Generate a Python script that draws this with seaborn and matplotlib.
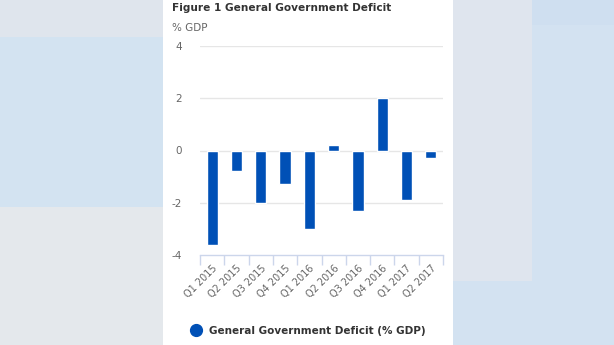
import matplotlib
matplotlib.use("Agg")
import matplotlib.pyplot as plt
import seaborn as sns
import pandas as pd
from matplotlib.patches import Rectangle
from matplotlib.lines import Line2D

quarters = ["Q1 2015", "Q2 2015", "Q3 2015", "Q4 2015", "Q1 2016",
            "Q2 2016", "Q3 2016", "Q4 2016", "Q1 2017", "Q2 2017"]
deficit = [-3.6, -0.8, -2.0, -1.3, -3.0, 0.2, -2.3, 2.0, -1.9, -0.3]
yticks = [-4, -2, 0, 2, 4]
series_name = "General Government Deficit (% GDP)"
title = "Figure 1 General Government Deficit"
unit = "% GDP"

sns.set_theme(style="white")
plt.rcParams["font.family"] = ["DejaVu Sans"]

W, H = 614, 345
fig = plt.figure(figsize=(W / 100, H / 100), dpi=100)
fig.patch.set_facecolor("white")

def px_rect(x0, y0, x1, y1, color):
    fig.patches.append(Rectangle((x0 / W, 1 - y1 / H), (x1 - x0) / W, (y1 - y0) / H,
                                 transform=fig.transFigure, facecolor=color,
                                 edgecolor="none", zorder=-10))

# background panels
px_rect(0, 0, 163, 37, "#dfe5ed")
px_rect(0, 37, 163, 207, "#d3e3f1")
px_rect(0, 207, 163, 345, "#e4e8ec")
px_rect(453, 0, 614, 345, "#d3e2f1")
px_rect(453, 0, 532, 281, "#dfe5ee")
px_rect(532, 0, 614, 25, "#cfdff0")

ax = fig.add_axes([200 / W, 1 - 255 / H, 243 / W, 209 / H])
ax.set_facecolor("none")

df = pd.DataFrame({"quarter": quarters, "value": deficit})
sns.barplot(data=df, x="quarter", y="value", color="#0050b6", width=0.46,
            saturation=1, ax=ax, zorder=3)

ax.set_ylim(-4, 4)
ax.set_xlim(-0.5, len(quarters) - 0.5)
ax.set_yticks(yticks)
ax.set_yticklabels([str(t) for t in yticks])
ax.set_xlabel("")
ax.set_ylabel("")
for y in yticks:
    if y > -4:
        ax.axhline(y, color="#e6e6e6", lw=1, zorder=1)

for s in ["top", "right", "left"]:
    ax.spines[s].set_visible(False)
ax.spines["bottom"].set_color("#ccd6eb")
ax.spines["bottom"].set_linewidth(1)

ax.tick_params(axis="y", length=0, pad=13, labelsize=7.5, labelcolor="#666666")
ax.tick_params(axis="x", which="major", bottom=True, length=0, pad=6, labelsize=7,
               labelcolor="#666666")
ax.set_xticks([i - 0.5 for i in range(len(quarters) + 1)], minor=True)
ax.tick_params(axis="x", which="minor", bottom=True, length=7, width=1,
               color="#ccd6eb", direction="out")
for lab in ax.get_yticklabels():
    lab.set_horizontalalignment("right")
for lab in ax.get_xticklabels():
    lab.set_rotation(45)
    lab.set_horizontalalignment("right")
    lab.set_rotation_mode("anchor")

fig.text(172 / W, 1 - 8 / H, title, fontsize=7.6, fontweight="bold", color="#333333",
         ha="left", va="center")
fig.text(172 / W, 1 - 28 / H, unit, fontsize=7.5, color="#666666", ha="left", va="center")

handle = Line2D([], [], marker="o", linestyle="none", markersize=8.5,
                markerfacecolor="#0050b6", markeredgecolor="#0050b6")
fig.legend([handle], [series_name], loc="center left",
           bbox_to_anchor=(186 / W, 1 - 331 / H), frameon=False,
           prop={"size": 7.5, "weight": "bold"}, handletextpad=0.25,
           borderaxespad=0, borderpad=0, labelcolor="#333333")

fig.savefig("out.png", dpi=100)
